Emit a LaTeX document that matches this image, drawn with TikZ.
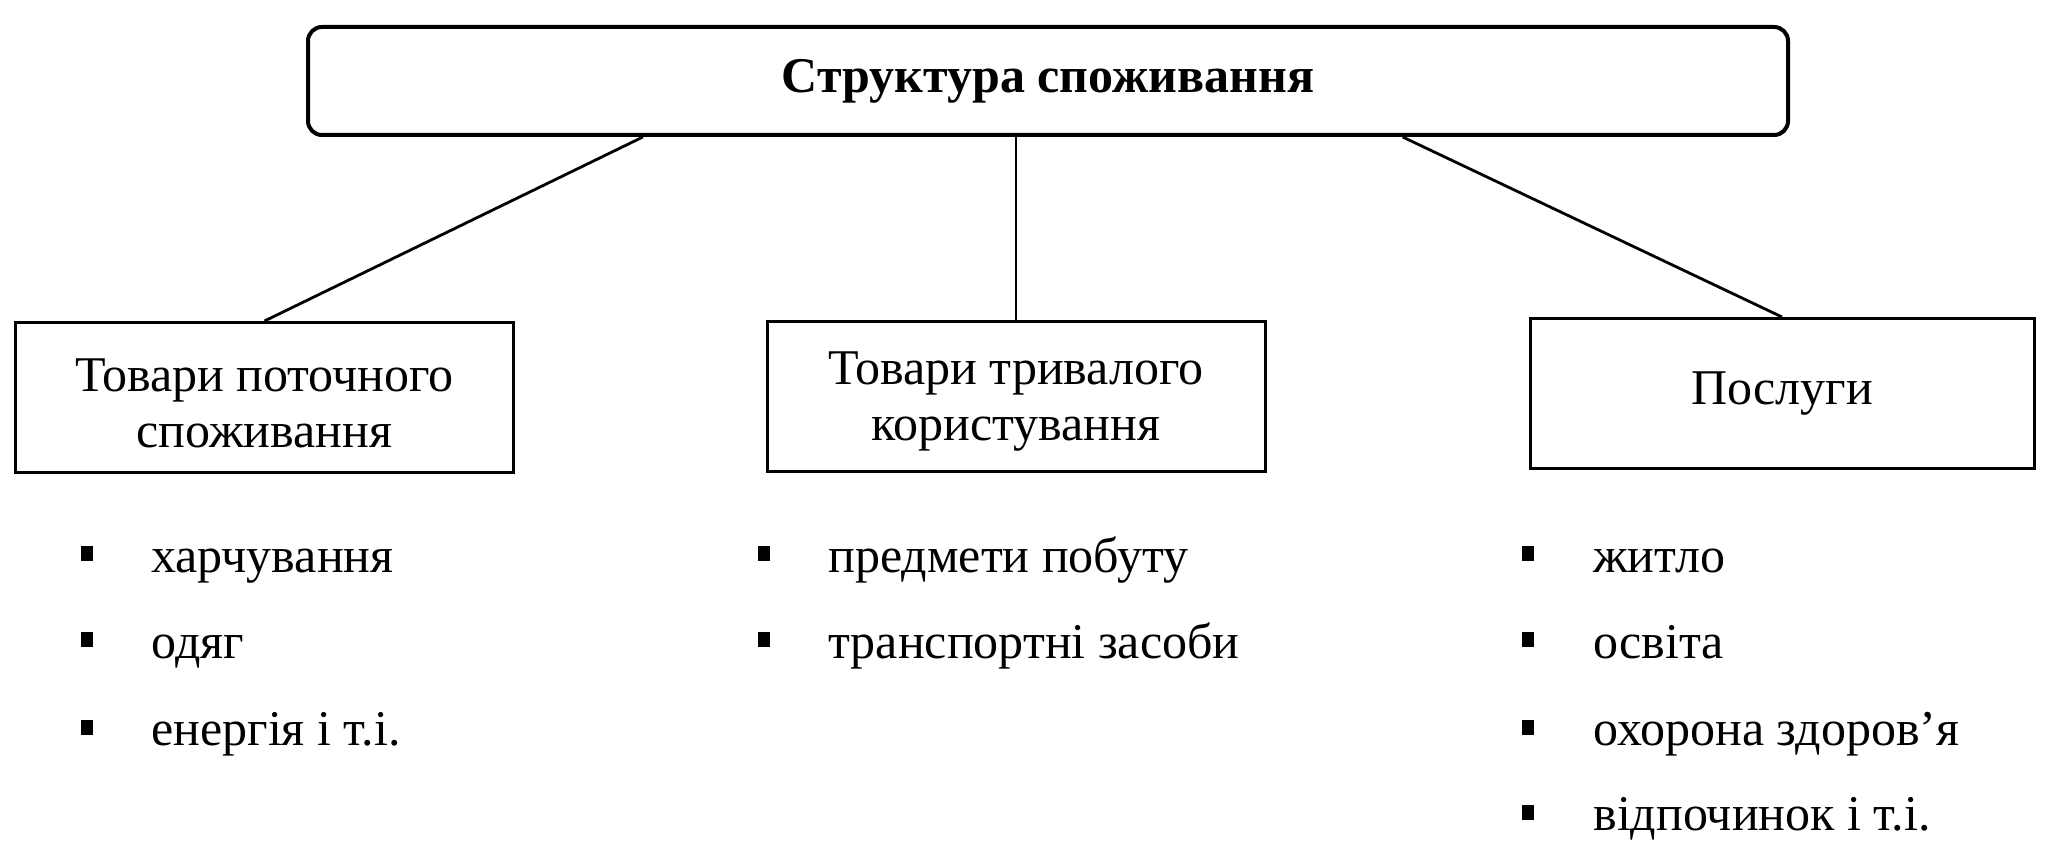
\documentclass[tikz,border=0pt]{standalone}
\usepackage{fontspec}
\setmainfont{Liberation Serif}
\usetikzlibrary{calc}
\newcommand{\lift}{\rule{0pt}{22pt}}
\begin{document}
\begin{tikzpicture}[x=0.5pt,y=-0.5pt,
  topbox/.style={draw, line width=2pt, rounded corners=7pt, minimum width=740pt, minimum height=54pt, font=\fontsize{25}{29}\selectfont\bfseries, inner sep=0pt},
  catbox/.style={draw, line width=1.5pt, minimum width=249pt, minimum height=75pt, font=\fontsize{25}{28}\selectfont, align=center, inner sep=0pt},
  conn/.style={line width=1.4pt},
  vconn/.style={line width=1.2pt},
  item/.style={anchor=base west, font=\fontsize{25}{29}\selectfont, inner sep=0pt},
  bul/.style={fill=black, minimum width=6pt, minimum height=7.5pt, inner sep=0pt}]
\useasboundingbox (0,0) rectangle (2061,866);

\node[topbox] (top) at (1048,81) {Структура споживання};
\node[catbox] (c1) at (264.5,397.5) {\lift Товари поточного\\споживання};
\node[catbox] (c2) at (1016,396) {\lift Товари тривалого\\користування};
\node[catbox, minimum width=252pt] (c3) at (1782,393.5) {Послуги};

\draw[conn] ($(top.south west)!0.227!(top.south east)$) -- (c1.north);
\draw[vconn] (c2.north |- top.south) -- (c2.north);
\draw[conn] ($(top.south west)!0.739!(top.south east)$) -- (c3.north);

% column 1
\node[bul] (b11) at (87,553) {};
\node[item] (t11) at (151,572) {харчування};
\node[bul] (b12) at (87,639) {};
\node[item] (t12) at (151,658) {одяг};
\node[bul] (b13) at (87,727) {};
\node[item] (t13) at (151,745) {енергія і т.і.};
% column 2
\node[bul] (b21) at (764,553) {};
\node[item] (t21) at (828,572) {предмети побуту};
\node[bul] (b22) at (764,639) {};
\node[item] (t22) at (828,658) {транспортні засоби};
% column 3
\node[bul] (b31) at (1528,553) {};
\node[item] (t31) at (1593,572) {житло};
\node[bul] (b32) at (1528,639) {};
\node[item] (t32) at (1593,658) {освіта};
\node[bul] (b33) at (1528,727) {};
\node[item] (t33) at (1593,745) {охорона здоров’я};
\node[bul] (b34) at (1528,812) {};
\node[item] (t34) at (1593,830) {відпочинок і т.і.};
\end{tikzpicture}
\end{document}
